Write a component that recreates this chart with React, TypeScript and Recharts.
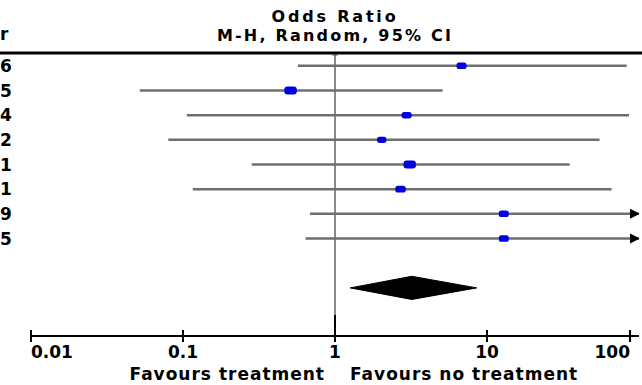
import React from "react";
import {
  ScatterChart,
  Scatter,
  XAxis,
  YAxis,
  ErrorBar,
  ReferenceLine,
} from "recharts";

// study rows (last digit of the year column is all that shows)
const yearLabels = ["6", "5", "4", "2", "1", "1", "9", "5"];
const oddsRatio = [6.8, 0.51, 2.96, 2.03, 3.1, 2.7, 12.9, 12.9];
const ciLow = [0.57, 0.052, 0.106, 0.08, 0.283, 0.116, 0.685, 0.64];
const ciHigh = [83, 5.1, 86, 55, 35, 66, 250, 250];
const weights = [1, 1.25, 1, 0.95, 1.25, 1.05, 1, 1];

// pooled estimate (diamond)
const pooled = { est: 3.2, lo: 1.26, hi: 8.56 };
const DIAMOND_ROW = 10;
const DIAMOND_HALF = 0.47;

const xTicks = [0.01, 0.1, 1, 10, 100];
const X_MIN = 0.01;
const X_MAX = 100;

const FONT = "'DejaVu Sans', Verdana, sans-serif";

const studies = oddsRatio.map((est, i) => {
  const hi = Math.min(ciHigh[i], X_MAX);
  return {
    x: est,
    y: i + 1,
    err: [est - ciLow[i], hi - est],
    w: weights[i],
  };
});

const arrows = studies
  .filter((_, i) => ciHigh[i] > X_MAX)
  .map((s) => ({ x: X_MAX, y: s.y }));

const diamond = [
  { x: pooled.lo, y: DIAMOND_ROW },
  { x: pooled.est, y: DIAMOND_ROW - DIAMOND_HALF },
  { x: pooled.hi, y: DIAMOND_ROW },
  { x: pooled.est, y: DIAMOND_ROW + DIAMOND_HALF },
  { x: pooled.lo, y: DIAMOND_ROW },
];

const Marker = (props: any) => {
  const { cx, cy, payload } = props;
  const w = 10 * payload.w;
  const h = 6.5 * payload.w;
  return (
    <rect
      x={cx - w / 2}
      y={cy - h / 2}
      width={w}
      height={h}
      rx={h / 2.5}
      fill="#0000e0"
    />
  );
};

const Arrow = (props: any) => {
  const { cx, cy } = props;
  return (
    <path
      d={`M${cx + 1},${cy} L${cx - 9},${cy - 5} L${cx - 9},${cy + 5} Z`}
      fill="#000"
    />
  );
};

const XTick = (props: any) => {
  const { x, y, payload, index } = props;
  const last = xTicks.length - 1;
  const anchor = index === 0 ? "start" : index === last ? "end" : "middle";
  const up = payload.value === 1 ? 21 : 6;
  return (
    <g>
      <line x1={x} x2={x} y1={y - up} y2={y + 6} stroke="#000" strokeWidth={2} />
      <text
        x={x}
        y={y + 22}
        textAnchor={anchor}
        fontFamily={FONT}
        fontWeight="bold"
        fontSize={17}
        fill="#000"
      >
        {payload.value}
      </text>
    </g>
  );
};

const YTick = (props: any) => {
  const { y, payload } = props;
  return (
    <text
      x={0}
      y={y + 6}
      textAnchor="start"
      fontFamily={FONT}
      fontWeight="bold"
      fontSize={17}
      fill="#000"
    >
      {yearLabels[payload.value - 1]}
    </text>
  );
};

const Headings = (props: any) => {
  const vb = props.viewBox;
  const cx = vb.x;
  const top = vb.y;
  const bottom = vb.y + vb.height;
  const txt = {
    fontFamily: FONT,
    fontWeight: "bold" as const,
    fontSize: 17,
    fill: "#000",
  };
  return (
    <g>
      <line x1={0} x2={642} y1={top} y2={top} stroke="#000" strokeWidth={3} />
      <line x1={cx - 3} x2={cx + 3} y1={top + 2} y2={top + 2} stroke="#555" strokeWidth={1} />
      <text {...txt} fontSize={16} x={cx} y={21.5} textAnchor="middle" letterSpacing={2.8}>
        Odds Ratio
      </text>
      <text {...txt} fontSize={16} x={cx} y={40.5} textAnchor="middle" letterSpacing={2.2}>
        M-H, Random, 95% CI
      </text>
      <text {...txt} x={0} y={40}>
        r
      </text>
      <text {...txt} x={cx - 10} y={bottom + 44} textAnchor="end" letterSpacing={1}>
        Favours treatment
      </text>
      <text {...txt} x={cx + 15} y={bottom + 44} textAnchor="start" letterSpacing={1}>
        Favours no treatment
      </text>
    </g>
  );
};

export default function App() {
  return (
    <div style={{ position: "absolute", left: 0, top: 0, background: "#fff" }}>
      <ScatterChart
        width={642}
        height={385}
        margin={{ top: 53, right: 3, left: 0, bottom: 0 }}
      >
        <XAxis
          type="number"
          dataKey="x"
          scale="log"
          domain={[X_MIN, X_MAX]}
          ticks={xTicks}
          allowDataOverflow
          height={49}
          tickSize={0}
          tickMargin={0}
          tickLine={false}
          axisLine={{ stroke: "#000", strokeWidth: 2 }}
          tick={<XTick />}
        />
        <YAxis
          type="number"
          dataKey="y"
          domain={[0.48, 11.95]}
          ticks={[1, 2, 3, 4, 5, 6, 7, 8]}
          reversed
          allowDataOverflow
          width={31}
          axisLine={false}
          tickLine={false}
          tick={<YTick />}
        />
        <ReferenceLine
          x={1}
          stroke="#8a8a8a"
          strokeWidth={2}
          label={<Headings />}
        />
        <Scatter
          data={studies}
          shape={<Marker />}
          isAnimationActive={false}
        >
          <ErrorBar
            dataKey="err"
            direction="x"
            width={0}
            stroke="#6e6e6e"
            strokeWidth={2.5}
          />
        </Scatter>
        <Scatter data={arrows} shape={<Arrow />} isAnimationActive={false} />
        <Scatter
          data={diamond}
          shape={() => <g />}
          line={{ fill: "#000", stroke: "#000", strokeWidth: 1 }}
          lineType="joint"
          isAnimationActive={false}
        />
      </ScatterChart>
    </div>
  );
}
